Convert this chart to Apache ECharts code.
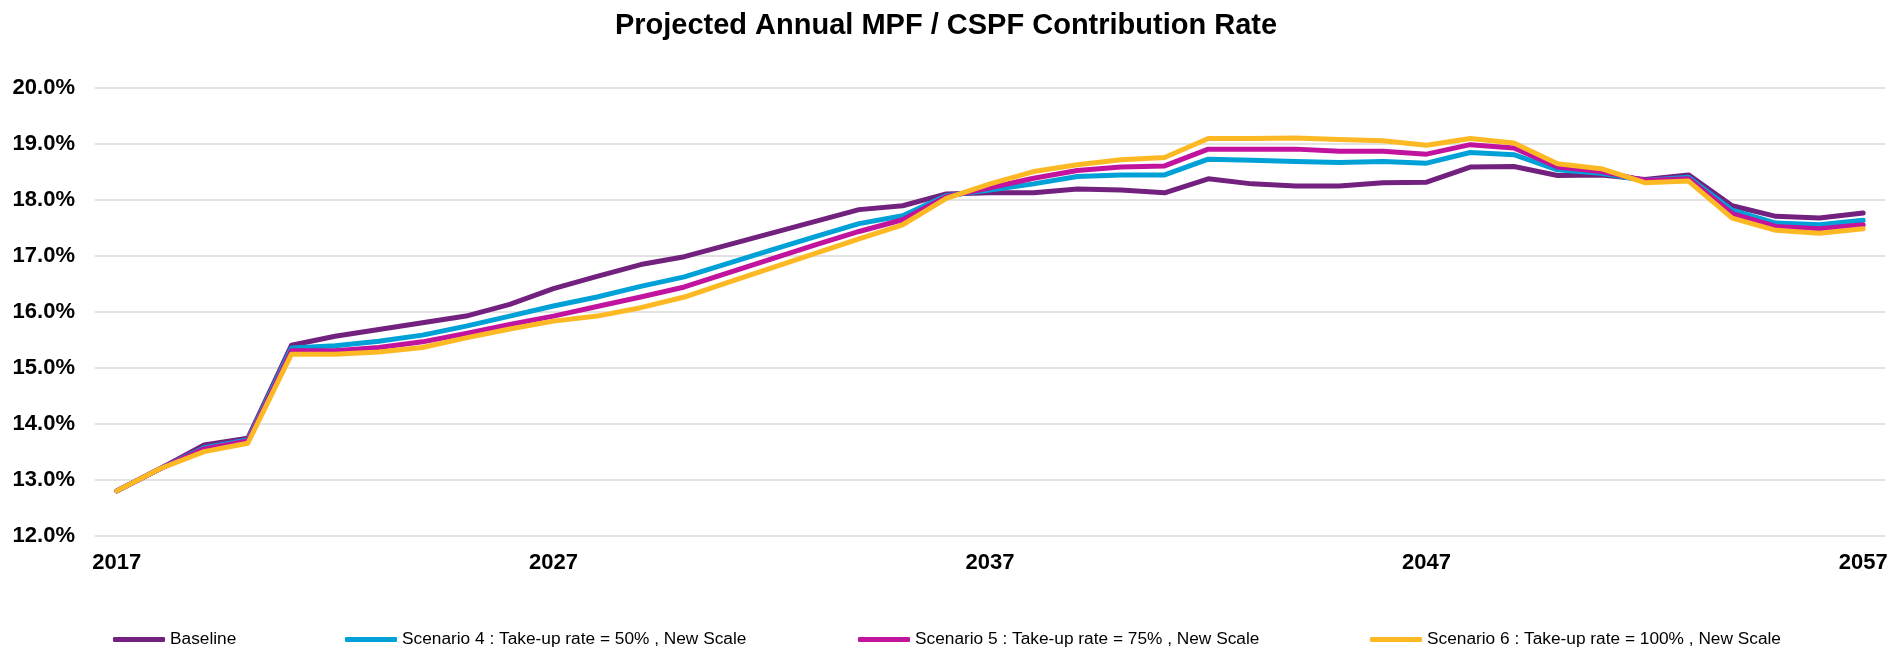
<!DOCTYPE html>
<html>
<head>
<meta charset="utf-8">
<script src="https://cdn.jsdelivr.net/npm/echarts@6/dist/echarts.min.js"></script>
<style>
html,body{margin:0;padding:0;background:#fff;}
#chart{width:1892px;height:650px;}
</style>
</head>
<body>
<div id="chart"></div>
<script>
const titleText = 'Projected Annual MPF / CSPF Contribution Rate';
const years = [];
for (let y = 2017; y <= 2057; y++) years.push(String(y));

const seriesNames = [
  'Baseline',
  'Scenario 4 : Take-up rate = 50% , New Scale',
  'Scenario 5 : Take-up rate = 75% , New Scale',
  'Scenario 6 : Take-up rate = 100% , New Scale'
];

const baseline = [12.80,13.20,13.62,13.74,15.40,15.56,15.68,15.80,15.92,16.13,16.41,16.63,16.84,16.98,17.19,17.40,17.61,17.82,17.89,18.10,18.12,18.12,18.19,18.17,18.12,18.37,18.28,18.24,18.24,18.30,18.31,18.58,18.59,18.43,18.44,18.36,18.44,17.89,17.70,17.67,17.76];
const scenario4 = [12.80,13.20,13.57,13.71,15.35,15.39,15.47,15.58,15.74,15.92,16.10,16.26,16.45,16.62,16.86,17.10,17.34,17.57,17.71,18.07,18.17,18.28,18.41,18.44,18.44,18.72,18.70,18.68,18.66,18.68,18.65,18.84,18.80,18.53,18.47,18.34,18.40,17.81,17.58,17.55,17.63];
const scenario5 = [12.80,13.20,13.55,13.69,15.30,15.30,15.36,15.46,15.61,15.77,15.92,16.09,16.26,16.44,16.69,16.94,17.19,17.43,17.64,18.05,18.21,18.38,18.52,18.58,18.60,18.90,18.90,18.90,18.86,18.86,18.81,18.98,18.92,18.58,18.50,18.34,18.37,17.75,17.52,17.48,17.55];
const scenario6 = [12.80,13.20,13.50,13.65,15.24,15.24,15.28,15.36,15.53,15.69,15.83,15.92,16.07,16.26,16.52,16.78,17.04,17.30,17.55,18.02,18.28,18.50,18.62,18.71,18.75,19.09,19.09,19.10,19.07,19.05,18.97,19.09,19.01,18.64,18.55,18.30,18.33,17.67,17.45,17.40,17.48];

const colors = ['#72217F', '#00A1D7', '#C1139E', '#FDB924'];
const allData = [baseline, scenario4, scenario5, scenario6];
const legendLefts = [113, 345, 858, 1370];

const FONT = '"Liberation Sans", Arial, sans-serif';

const chart = echarts.init(document.getElementById('chart'), null, {renderer: 'canvas'});

const option = {
  backgroundColor: '#ffffff',
  animation: false,
  color: colors,
  title: {
    text: titleText,
    left: 'center',
    top: 6,
    textStyle: {fontFamily: FONT, fontSize: 29, fontWeight: 'bold', color: '#000'}
  },
  legend: seriesNames.map((n, i) => ({
    data: [{name: n, icon: 'roundRect'}],
    left: legendLefts[i],
    top: 631,
    itemWidth: 52,
    itemHeight: 5,
    padding: 0,
    textStyle: {fontFamily: FONT, fontSize: 17.3, color: '#000'}
  })),
  grid: {left: 95, right: 7, top: 87.5, bottom: 114.3, containLabel: false},
  xAxis: {
    type: 'category',
    data: years,
    boundaryGap: true,
    axisLine: {show: false},
    axisTick: {show: false},
    axisLabel: {
      interval: 9,
      margin: 16,
      fontFamily: FONT, fontSize: 22, fontWeight: 'bold', color: '#000'
    }
  },
  yAxis: {
    type: 'value',
    min: 12, max: 20, interval: 1,
    axisLine: {show: false},
    axisTick: {show: false},
    splitLine: {lineStyle: {color: '#D9D9D9', width: 1.5}},
    axisLabel: {
      margin: 20,
      formatter: v => v.toFixed(1) + '%',
      fontFamily: FONT, fontSize: 22, fontWeight: 'bold', color: '#000'
    }
  },
  series: seriesNames.map((n, i) => ({
    name: n,
    type: 'line',
    data: allData[i],
    symbol: 'none',
    smooth: false,
    lineStyle: {width: 5, color: colors[i], cap: 'round', join: 'round'},
    itemStyle: {color: colors[i]}
  }))
};
chart.setOption(option);
</script>
</body>
</html>
